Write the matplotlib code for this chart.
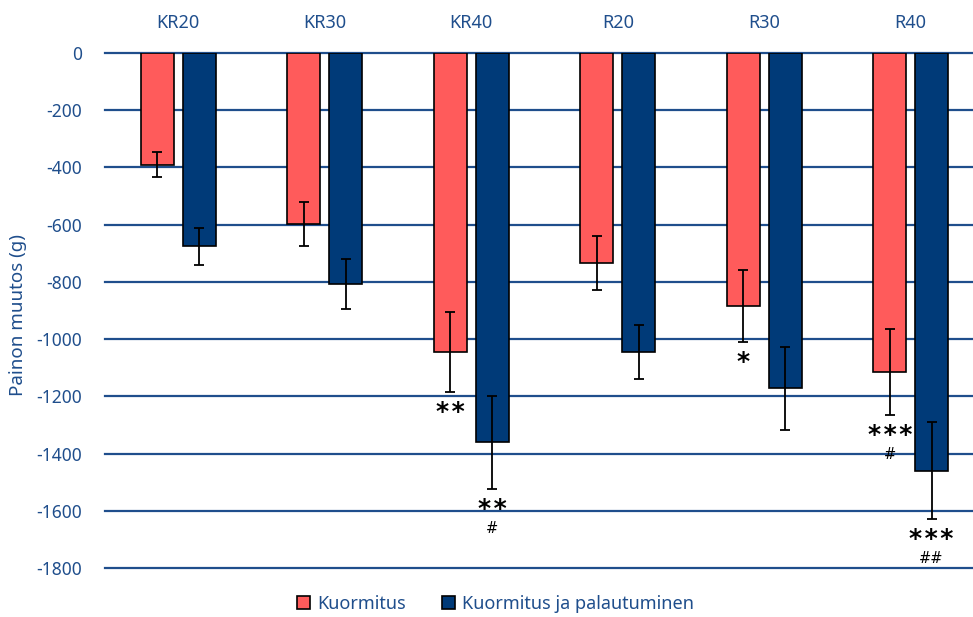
import matplotlib
matplotlib.use("Agg")
import matplotlib.pyplot as plt
from matplotlib.patches import Patch
import numpy as np

categories = ["KR20", "KR30", "KR40", "R20", "R30", "R40"]
kuormitus = [-390, -598, -1045, -734, -884, -1115]
kuormitus_err = [45, 78, 140, 94, 126, 151]
palautuminen = [-675, -807, -1361, -1045, -1171, -1460]
palautuminen_err = [65, 86, 163, 96, 145, 169]
yticks = [0, -200, -400, -600, -800, -1000, -1200, -1400, -1600, -1800]

# significance markers below each error bar: (stars, hashes)
kuormitus_sig = [("", ""), ("", ""), ("**", ""), ("", ""), ("*", ""), ("***", "#")]
palautuminen_sig = [("", ""), ("", ""), ("**", "#"), ("", ""), ("", ""), ("***", "##")]

red = "#FF5B5B"
navy = "#003A78"
textblue = "#1F4E8C"
gridblue = "#1F4E8C"

plt.rcParams["font.family"] = ["Noto Sans", "DejaVu Sans"]

fig = plt.figure(figsize=(9.73, 6.17), dpi=100)
left = 105 / 973
width = (984 - 105) / 973
ax = fig.add_axes([left, 0.0562, width, 0.8579])

x = np.arange(len(categories))
off = 0.142
bw = 0.225

ax.bar(x - off, kuormitus, width=bw, color=red, edgecolor="black", linewidth=1.2, zorder=3)
ax.bar(x + off, palautuminen, width=bw, color=navy, edgecolor="black", linewidth=1.2, zorder=3)
ax.errorbar(x - off, kuormitus, yerr=kuormitus_err, fmt="none", ecolor="black",
            elinewidth=1.3, capsize=3.5, capthick=1.3, zorder=4)
ax.errorbar(x + off, palautuminen, yerr=palautuminen_err, fmt="none", ecolor="black",
            elinewidth=1.3, capsize=3.5, capthick=1.3, zorder=4)

def annotate(xs, vals, errs, sigs):
    for xi, v, e, (stars, hashes) in zip(xs, vals, errs, sigs):
        low = v - e
        if stars:
            ax.text(xi, low - 94, "\u200a".join(stars), ha="center", va="baseline",
                    fontsize=18, fontweight="bold", color="black",
                    family="DejaVu Sans", zorder=5)
        if hashes:
            ax.text(xi, low - 154, hashes, ha="center", va="baseline",
                    fontsize=10.5, color="black", family="DejaVu Sans", zorder=5)

annotate(x - off, kuormitus, kuormitus_err, kuormitus_sig)
annotate(x + off, palautuminen, palautuminen_err, palautuminen_sig)

for t in yticks:
    ax.axhline(t, color=gridblue, linewidth=1.6, zorder=1, clip_on=False)

ax.set_xlim(-0.5, len(categories) - 0.5)
ax.set_ylim(-1850, 0)
ax.set_yticks(yticks)
ax.set_yticklabels([str(t) for t in yticks])
ax.set_xticks(x)
ax.set_xticklabels(categories)
ax.xaxis.tick_top()
ax.tick_params(axis="x", length=0, pad=15, labelsize=13, labelcolor=textblue)
ax.tick_params(axis="y", length=0, pad=16.5, labelsize=12.5, labelcolor=textblue)
for s in ax.spines.values():
    s.set_visible(False)

fig.text(18 / 973, 1 - 315 / 617, "Painon muutos (g)", rotation=90, ha="center",
         va="center", fontsize=13.5, color=textblue)

handles = [Patch(facecolor=red, edgecolor="black", linewidth=1.2),
           Patch(facecolor=navy, edgecolor="black", linewidth=1.2)]
fig.legend(handles, ["Kuormitus", "Kuormitus ja palautuminen"], loc="center",
           bbox_to_anchor=(0.5 + 9 / 973, 1 - 604 / 617), ncol=2, frameon=False,
           fontsize=13, labelcolor=textblue, handlelength=0.7, handleheight=0.7,
           handletextpad=0.4, columnspacing=2.0, borderpad=0.2)

fig.savefig("out.png", dpi=100)
